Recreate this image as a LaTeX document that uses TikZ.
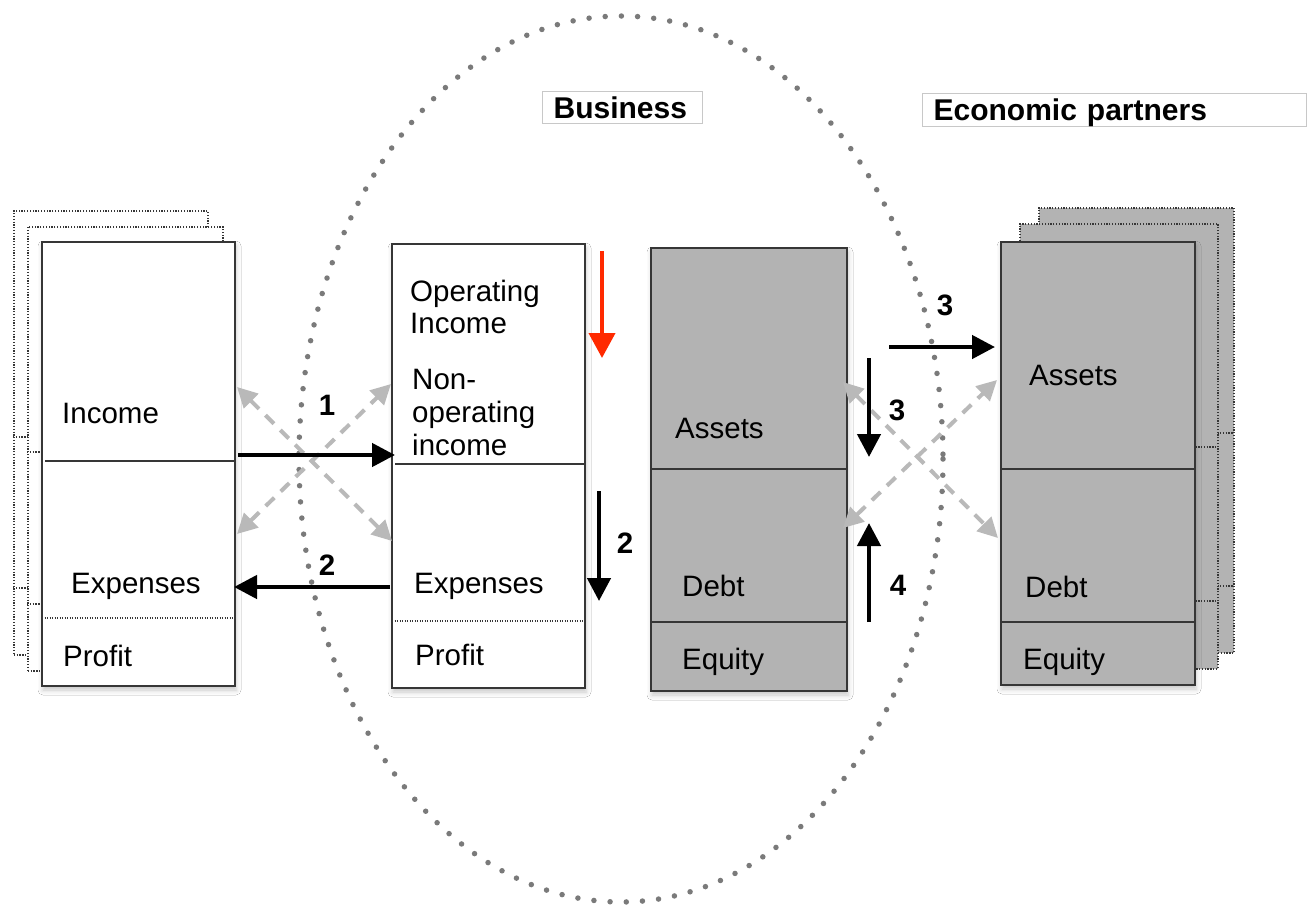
\documentclass[tikz,border=0pt]{standalone}
\usepackage{fontspec}
\setmainfont{Liberation Sans}
\usetikzlibrary{arrows.meta,shadows.blur}
\definecolor{boxline}{HTML}{363636}
\definecolor{boxgray}{HTML}{B3B3B3}
\definecolor{dotgray}{HTML}{7A7A7A}
\definecolor{xgray}{HTML}{B9B9B9}
\definecolor{redarrow}{HTML}{FF2A00}
\definecolor{titleline}{HTML}{C8C8C8}
\tikzset{
  mainbox/.style={draw=boxline, line width=2bp, fill=white, anchor=north west, inner sep=0pt,
     blur shadow={shadow xshift=1bp, shadow yshift=-4bp, shadow blur radius=5bp, shadow opacity=22}},
  graybox/.style={mainbox, fill=boxgray},
  backbox/.style={draw=boxline, line width=1.6bp, dash pattern=on 1.3bp off 1.5bp, fill=white, anchor=north west, inner sep=0pt},
  backgray/.style={backbox, fill=boxgray},
  backdiv/.style={draw=boxline, line width=1.6bp, dash pattern=on 1.3bp off 1.5bp},
  soliddiv/.style={draw=boxline, line width=2bp},
  dotdiv/.style={draw=boxline, line width=1.4bp, dash pattern=on 1.2bp off 1.3bp},
  lbl/.style={anchor=base west, inner sep=0pt, font=\fontsize{29.5bp}{32.5bp}\selectfont, align=left},
  num/.style={inner sep=0pt, font=\fontsize{29.5bp}{32bp}\selectfont\bfseries},
  titlebox/.style={draw=titleline, line width=1.2bp, anchor=north west, inner xsep=11bp, inner ysep=0pt,
     text height=21.5bp, text depth=0bp, font=\fontsize{30bp}{32bp}\selectfont\bfseries, align=left},
  blackarrow/.style={draw=black, line width=4.5bp, -{Triangle[length=23bp,width=23bp]}},
  redarr/.style={draw=redarrow, line width=4bp, -{Triangle[length=25bp,width=26bp]}},
  grayx/.style={draw=xgray, line width=4bp, dash pattern=on 12bp off 9bp,
     {Triangle[length=20bp,width=20bp]}-{Triangle[length=20bp,width=20bp]}},
  ellipsedots/.style={draw=dotgray, line width=5.5bp, line cap=round, dash pattern=on 0bp off 16.2bp}
}
\begin{document}
\begin{tikzpicture}[x=1bp,y=-1bp]
\useasboundingbox[fill=white] (0,0) rectangle (1312,904);

% big dotted ellipse
\draw[ellipsedots] (621,459) ellipse [x radius=322, y radius=443];

% title boxes
\node[titlebox, minimum width=160bp, minimum height=32bp, text width=138bp] (tBusiness) at (542,91) {Business};
\node[titlebox, minimum width=384bp, minimum height=33bp, text width=362bp] (tPartners) at (922,93) {Economic partners};

% ---------- left stack ----------
\node[backbox, minimum width=194bp, minimum height=444bp] (LB2) at (13,210) {};
\draw[backdiv] (13,437) -- (207,437);
\draw[backdiv] (13,588) -- (207,588);
\node[backbox, minimum width=195bp, minimum height=444bp] (LB1) at (27,226) {};
\draw[backdiv] (27,452) -- (222,452);
\draw[backdiv] (27,604) -- (222,604);
\node[mainbox, minimum width=193bp, minimum height=444bp] (L) at (41,241) {};
\draw[soliddiv] (45,461) -- (234,461);
\draw[dotdiv] (42,618) -- (233,618);
\node[lbl] (lIncome) at (62,423) {Income};
\node[lbl] (lExpenses) at (71,593) {Expenses};
\node[lbl] (lProfit) at (63,666) {Profit};

% ---------- middle (income statement) ----------
\node[mainbox, minimum width=193bp, minimum height=444bp] (M) at (391,243) {};
\draw[soliddiv] (395,464) -- (584,464);
\draw[dotdiv] (392,621) -- (583,621);
\node[lbl, font=\fontsize{29.5bp}{32bp}\selectfont] (mOper) at (410,333) {Operating\\Income};
\node[lbl, font=\fontsize{29.5bp}{33bp}\selectfont] (mNonOper) at (412,455) {Non-\\operating\\income};
\node[lbl] (mExpenses) at (414,593) {Expenses};
\node[lbl] (mProfit) at (415,665) {Profit};

% ---------- grey balance sheet ----------
\node[graybox, minimum width=196bp, minimum height=443bp] (G) at (650,247) {};
\draw[soliddiv] (650,469) -- (846,469);
\draw[soliddiv] (650,622) -- (846,622);
\node[lbl] (gAssets) at (675,438) {Assets};
\node[lbl] (gDebt) at (682,596) {Debt};
\node[lbl] (gEquity) at (682,669) {Equity};

% ---------- right stack ----------
\node[backgray, minimum width=195bp, minimum height=445bp] (RB2) at (1038,207) {};
\draw[backdiv] (1038,433) -- (1233,433);
\draw[backdiv] (1038,586) -- (1233,586);
\node[backgray, minimum width=198bp, minimum height=445bp] (RB1) at (1019,223) {};
\draw[backdiv] (1019,447) -- (1217,447);
\draw[backdiv] (1019,601) -- (1217,601);
\node[graybox, minimum width=194bp, minimum height=443bp] (R) at (1000,241) {};
\draw[soliddiv] (1000,469) -- (1194,469);
\draw[soliddiv] (1000,622) -- (1194,622);
\node[lbl] (rAssets) at (1029,385) {Assets};
\node[lbl] (rDebt) at (1025,597) {Debt};
\node[lbl] (rEquity) at (1023,669) {Equity};

% ---------- arrow end points ----------
\coordinate (xl1a) at (237,387); \coordinate (xl1b) at (392,541);
\coordinate (xl2a) at (237,534); \coordinate (xl2b) at (391,384);
\coordinate (a1s) at (238,455);  \coordinate (a1e) at (395,455);
\coordinate (a2s) at (390,587);  \coordinate (a2e) at (234,587);
\coordinate (reds) at (602,251); \coordinate (rede) at (602,358);
\coordinate (m2s) at (599,491);  \coordinate (m2e) at (599,601);
\coordinate (h3s) at (889,347);  \coordinate (h3e) at (995,347);
\coordinate (v3s) at (869,358);  \coordinate (v3e) at (869,457);
\coordinate (v4s) at (869,622);  \coordinate (v4e) at (869,523);
\coordinate (xr1a) at (843,382); \coordinate (xr1b) at (998,538);
\coordinate (xr2a) at (843,528); \coordinate (xr2b) at (997,380);

% grey dashed crossing arrows
\draw[grayx] (xl1a) -- (xl1b);
\draw[grayx] (xl2a) -- (xl2b);
\draw[grayx] (xr1a) -- (xr1b);
\draw[grayx] (xr2a) -- (xr2b);

% black and red arrows
\draw[blackarrow] (a1s) -- (a1e);
\draw[blackarrow] (a2s) -- (a2e);
\draw[redarr] (reds) -- (rede);
\draw[blackarrow] (m2s) -- (m2e);
\draw[blackarrow] (h3s) -- (h3e);
\draw[blackarrow] (v3s) -- (v3e);
\draw[blackarrow] (v4s) -- (v4e);

% numbers
\node[num] (n1) at (327,405) {1};
\node[num] (n2l) at (327,565) {2};
\node[num] (n2m) at (625,543) {2};
\node[num] (n3h) at (945,305) {3};
\node[num] (n3v) at (897,410) {3};
\node[num] (n4) at (898,585) {4};
\end{tikzpicture}
\end{document}
